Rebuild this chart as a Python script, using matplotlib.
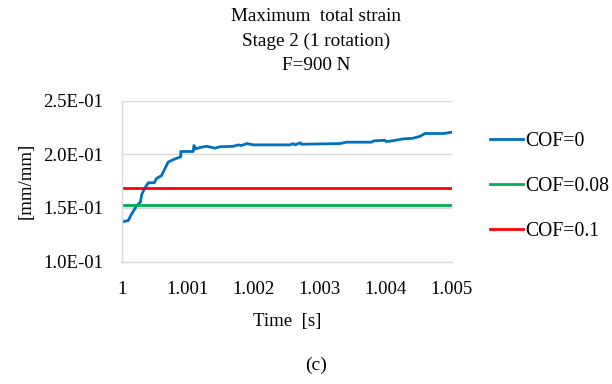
import matplotlib
matplotlib.use("Agg")
import matplotlib.pyplot as plt

plt.rcParams['font.family'] = ['Liberation Serif', 'DejaVu Serif']

# COF=0 curve (time in s, strain in mm/mm)
time_cof0 = [1.00000, 1.000096, 1.00013, 1.00022, 1.00028, 1.00030, 1.00035,
             1.00040, 1.00049, 1.00052, 1.00060, 1.00070, 1.00078, 1.00083,
             1.00089, 1.000891, 1.00108, 1.00109, 1.00112, 1.00118, 1.00128,
             1.00141, 1.00148, 1.00169, 1.00176, 1.00181, 1.00189, 1.00199,
             1.00255, 1.00259, 1.00262, 1.00270, 1.00272, 1.00330, 1.00340,
             1.00378, 1.00381, 1.00398, 1.00400, 1.00409, 1.00426, 1.00441,
             1.00452, 1.00459, 1.00487, 1.00500]
strain_cof0 = [0.1370, 0.1383, 0.1426, 0.1519, 0.1556, 0.1628, 0.1690,
               0.1736, 0.1736, 0.1774, 0.1804, 0.1929, 0.1953, 0.1965,
               0.1978, 0.2028, 0.2028, 0.2084, 0.2053, 0.2065, 0.2077,
               0.2059, 0.2072, 0.2077, 0.2090, 0.2084, 0.2102, 0.2090,
               0.2090, 0.2102, 0.2090, 0.2109, 0.2096, 0.2102, 0.2115,
               0.2115, 0.2127, 0.2133, 0.2121, 0.2127, 0.2146, 0.2152,
               0.2171, 0.2196, 0.2196, 0.2208]

# constant levels for the other friction coefficients
strain_cof008 = 0.1528
strain_cof01 = 0.1686

labels = ['COF=0', 'COF=0.08', 'COF=0.1']
colors = ['#0070c0', '#00b050', '#ff0000']
x_ticks = [1, 1.001, 1.002, 1.003, 1.004, 1.005]
x_tick_labels = ['1', '1.001', '1.002', '1.003', '1.004', '1.005']
y_ticks = [0.10, 0.15, 0.20, 0.25]
title_lines = ['Maximum  total strain', 'Stage 2 (1 rotation)', 'F=900 N']

fig = plt.figure(figsize=(6.12, 3.84), dpi=100)
ax = fig.add_axes([0.1993, 0.319, 0.5393, 0.418])

t0, t1 = x_ticks[0], x_ticks[-1]
ax.plot(time_cof0, strain_cof0, color=colors[0], lw=2, label=labels[0])
ax.plot([t0, t1], [strain_cof008] * 2, color=colors[1], lw=2, label=labels[1])
ax.plot([t0, t1], [strain_cof01] * 2, color=colors[2], lw=2, label=labels[2])

ax.set_xlim(t0, t1)
ax.set_ylim(y_ticks[0], y_ticks[-1])
ax.set_xticks(x_ticks)
ax.set_xticklabels(x_tick_labels)
ax.set_yticks(y_ticks)
ax.yaxis.set_major_formatter(
    plt.FuncFormatter(lambda v, p: '{:.1E}'.format(v)))
ax.tick_params(length=0, labelsize=13.5)
ax.tick_params(axis='x', pad=14)
ax.tick_params(axis='y', pad=13.5)
ax.grid(axis='y', color='#d9d9d9', lw=1)
ax.set_axisbelow(True)
for s in ['top', 'right']:
    ax.spines[s].set_visible(False)
for s in ['left', 'bottom']:
    ax.spines[s].set_color('#d9d9d9')
    ax.spines[s].set_linewidth(1)

ax.set_xlabel('Time  [s]', fontsize=13.5, labelpad=11)
ax.set_ylabel('[mm/mm]', fontsize=13.5)
ax.yaxis.set_label_coords(-0.264, 0.5)

# three-line title, centred over the whole figure
for i, line in enumerate(title_lines):
    fig.text(0.516, 0.957 - i * 0.064, line, ha='center', va='center',
             fontsize=13.8)

ax.legend(loc='center left', bbox_to_anchor=(1.06, 0.468), frameon=False,
          fontsize=14.2, handlelength=1.72, handletextpad=0.1,
          labelspacing=1.32)

fig.text(0.516, 0.049, '(c)', ha='center', va='center', fontsize=14)

fig.savefig('out.png', dpi=100)
